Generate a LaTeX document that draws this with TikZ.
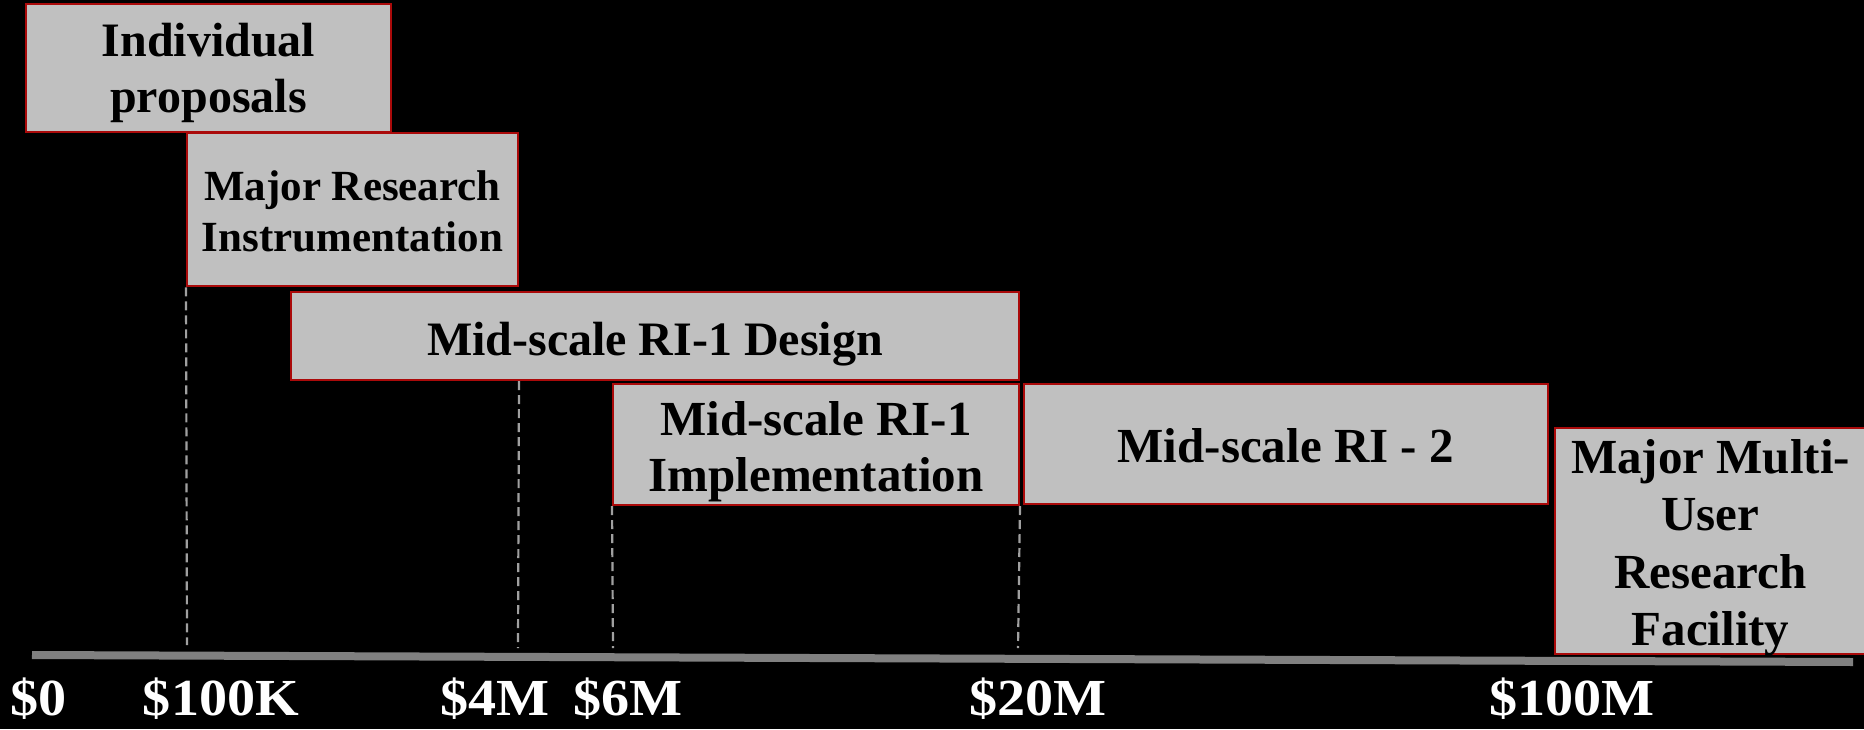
\documentclass[tikz,border=0pt]{standalone}
\usepackage{fontspec}
\setmainfont{Liberation Serif}
\newfontfamily\costfont[FakeStretch=1.08]{Liberation Serif}
\begin{document}
\begin{tikzpicture}[x=1pt,y=-1pt,
  box/.style={draw={rgb,255:red,170;green,10;blue,10}, line width=2pt,
    fill={rgb,255:red,192;green,192;blue,192}, rectangle, inner sep=0pt},
  boxlabel/.style={text=black, align=center, inner sep=0pt, anchor=base},
  money/.style={text=white, inner sep=0pt, anchor=base,
    font=\costfont\fontsize{52}{56}\selectfont\bfseries},
  guide/.style={draw={rgb,255:red,160;green,160;blue,160}, line width=2.2pt,
    dash pattern=on 9pt off 5pt},
  axisbar/.style={draw={rgb,255:red,128;green,128;blue,128}, line width=8pt}]

% canvas
\fill[black] (0,0) rectangle (1864,729);
\useasboundingbox (0,0) rectangle (1864,729);

% programme boxes
\node[box, minimum width=365pt, minimum height=128pt] (ind) at (208.5,68) {};
\node[box, minimum width=331pt, minimum height=153pt] (mri) at (352.5,209.8) {};
\node[box, minimum width=728pt, minimum height=88pt] (des) at (655,336) {};
\node[box, minimum width=406pt, minimum height=121pt] (imp) at (816,444.5) {};
\node[box, minimum width=524pt, minimum height=120pt] (rtwo) at (1285.7,444) {};
\node[box, minimum width=311pt, minimum height=226pt] (mmu) at (1710.5,541) {};

% box texts (anchored on the baseline of their last line)
\node[boxlabel, font=\fontsize{48}{56}\selectfont\bfseries] (indL) at (208.5,112) {Individual\\proposals};
\node[boxlabel, font=\fontsize{43}{51}\selectfont\bfseries] (mriL) at (352.5,251) {Major Research\\Instrumentation};
\node[boxlabel, font=\fontsize{48}{56}\selectfont\bfseries] (desL) at (655,355) {Mid-scale RI-1 Design};
\node[boxlabel, font=\fontsize{49}{56}\selectfont\bfseries] (impL) at (816,491) {Mid-scale RI-1\\Implementation};
\node[boxlabel, font=\fontsize{49}{56}\selectfont\bfseries] (rtwoL) at (1285.7,462) {Mid-scale RI - 2};
\node[boxlabel, font=\fontsize{49}{57.5}\selectfont\bfseries] (mmuL) at (1710.5,645.5) {Major Multi-\\User\\Research\\Facility};

% axis
\coordinate (ax0) at (32,655);
\coordinate (ax1) at (1853,662);
\draw[axisbar] (ax0) -- (ax1);

% guide lines down to the axis
\coordinate (g1) at (187,645);
\coordinate (g2) at (518,648);
\coordinate (g3) at (613,648);
\coordinate (g4) at (1018,648);
\draw[guide] (mri.south west) -- (g1);
\draw[guide] (des.south -| mri.east) -- (g2);
\draw[guide] (imp.south west) -- (g3);
\draw[guide] (imp.south east) -- (g4);

% cost labels
\node[money] (m0) at (38.5,715) {\$0};
\node[money] (m1) at (221,715) {\$100K};
\node[money] (m2) at (495,715) {\$4M};
\node[money] (m3) at (628,715) {\$6M};
\node[money] (m4) at (1038,715) {\$20M};
\node[money] (m5) at (1572,715) {\$100M};
\end{tikzpicture}
\end{document}
